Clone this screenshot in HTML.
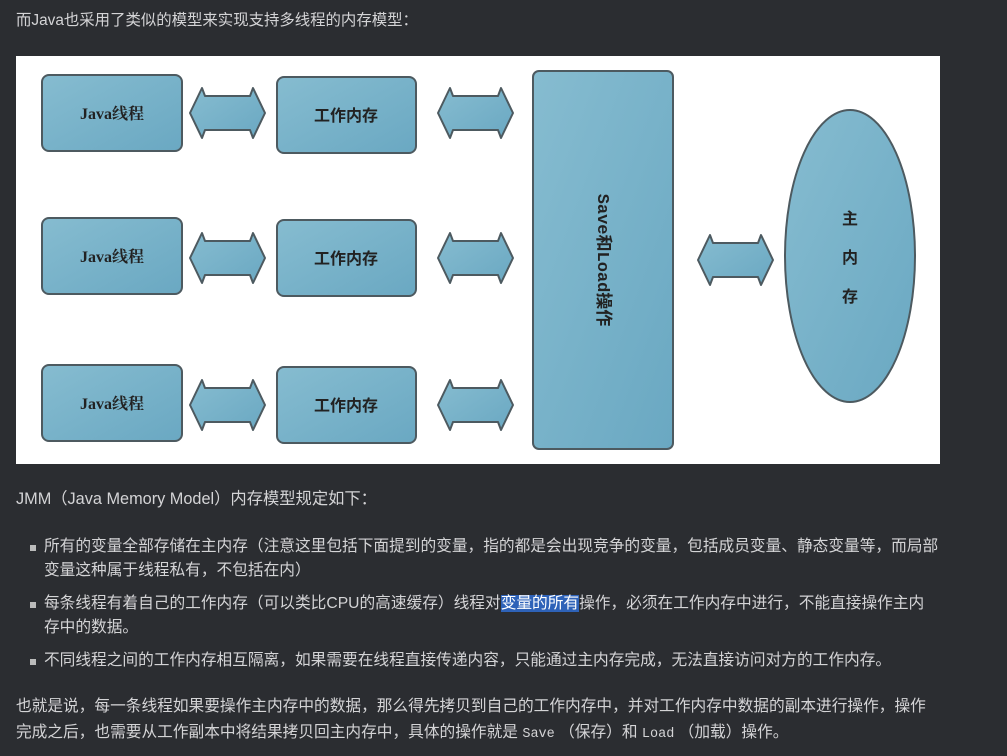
<!DOCTYPE html>
<html><head><meta charset="utf-8"><style>
body{margin:0;width:1007px;height:756px;background:#2b2d31;overflow:hidden;font-family:"Liberation Sans","Noto Sans CJK SC",sans-serif;color:#d4d4d6;font-size:15.7px}
.t{position:absolute;white-space:nowrap;line-height:24px}
.b{position:absolute;left:30px;width:6px;height:6px;background:#bbb}
.hl{background:#2e62b8;color:#fff}
code{font-family:"Liberation Mono",monospace;font-size:13.5px}
</style></head><body>
<div class="t" style="left:16px;top:9px;font-size:15.4px">而Java也采用了类似的模型来实现支持多线程的内存模型：</div>
<svg style="position:absolute;left:0;top:0" width="1007" height="470">
<defs><linearGradient id="g" x1="0" y1="0" x2="1" y2="1"><stop offset="0" stop-color="#86bcd0"/><stop offset="1" stop-color="#6aa8c2"/></linearGradient>
<g id="ar"><polygon points="0,27 12,2 15,10 60,10 63,2 75,27 63,52 60,44 15,44 12,52" fill="url(#g)" stroke="#4d5a60" stroke-width="2" stroke-linejoin="round"/></g></defs>
<rect x="16" y="56" width="924" height="408" fill="#fff"/>
<g fill="url(#g)" stroke="#4d5a60" stroke-width="2">
<rect x="42" y="75" width="140" height="76" rx="7"/><rect x="42" y="218" width="140" height="76" rx="7"/><rect x="42" y="365" width="140" height="76" rx="7"/>
<rect x="277" y="77" width="139" height="76" rx="7"/><rect x="277" y="220" width="139" height="76" rx="7"/><rect x="277" y="367" width="139" height="76" rx="7"/>
<rect x="533" y="71" width="140" height="378" rx="6"/>
<ellipse cx="850" cy="256" rx="65" ry="146"/>
</g>
<use href="#ar" x="190" y="86"/><use href="#ar" x="438" y="86"/>
<use href="#ar" x="190" y="231"/><use href="#ar" x="438" y="231"/>
<use href="#ar" x="190" y="378"/><use href="#ar" x="438" y="378"/>
<use href="#ar" x="698" y="233"/>
<g font-family="Liberation Serif,Noto Serif CJK SC,serif" font-weight="bold" font-size="16" fill="#222" text-anchor="middle">
<text x="112" y="119">Java线程</text><text x="112" y="262">Java线程</text><text x="112" y="409">Java线程</text>
<text x="346" y="121" font-family="Noto Sans CJK SC,sans-serif">工作内存</text><text x="346" y="264" font-family="Noto Sans CJK SC,sans-serif">工作内存</text><text x="346" y="411" font-family="Noto Sans CJK SC,sans-serif">工作内存</text>
<text x="0" y="0" transform="translate(598,260) rotate(90)" font-size="17" font-family="Liberation Mono,Noto Sans CJK SC,monospace">Save和Load操作</text>
<text x="850" y="224" font-family="Noto Sans CJK SC,sans-serif">主</text><text x="850" y="263" font-family="Noto Sans CJK SC,sans-serif">内</text><text x="850" y="302" font-family="Noto Sans CJK SC,sans-serif">存</text>
</g>
</svg>
<div class="t" style="left:16px;top:487px;font-size:16.3px">JMM（Java Memory Model）内存模型规定如下：</div>
<div class="b" style="top:545px"></div>
<div class="t" style="left:44px;top:535px">所有的变量全部存储在主内存（注意这里包括下面提到的变量，指的都是会出现竞争的变量，包括成员变量、静态变量等，而局部</div>
<div class="t" style="left:44px;top:559px">变量这种属于线程私有，不包括在内）</div>
<div class="b" style="top:602px"></div>
<div class="t" style="left:44px;top:592px">每条线程有着自己的工作内存（可以类比CPU的高速缓存）线程对<span class="hl">变量的所有</span>操作，必须在工作内存中进行，不能直接操作主内</div>
<div class="t" style="left:44px;top:616px">存中的数据。</div>
<div class="b" style="top:659px"></div>
<div class="t" style="left:44px;top:649px">不同线程之间的工作内存相互隔离，如果需要在线程直接传递内容，只能通过主内存完成，无法直接访问对方的工作内存。</div>
<div class="t" style="left:16px;top:695px">也就是说，每一条线程如果要操作主内存中的数据，那么得先拷贝到自己的工作内存中，并对工作内存中数据的副本进行操作，操作</div>
<div class="t" style="left:16px;top:721px">完成之后，也需要从工作副本中将结果拷贝回主内存中，具体的操作就是 <code>Save</code> （保存）和 <code>Load</code> （加载）操作。</div>
</body></html>
